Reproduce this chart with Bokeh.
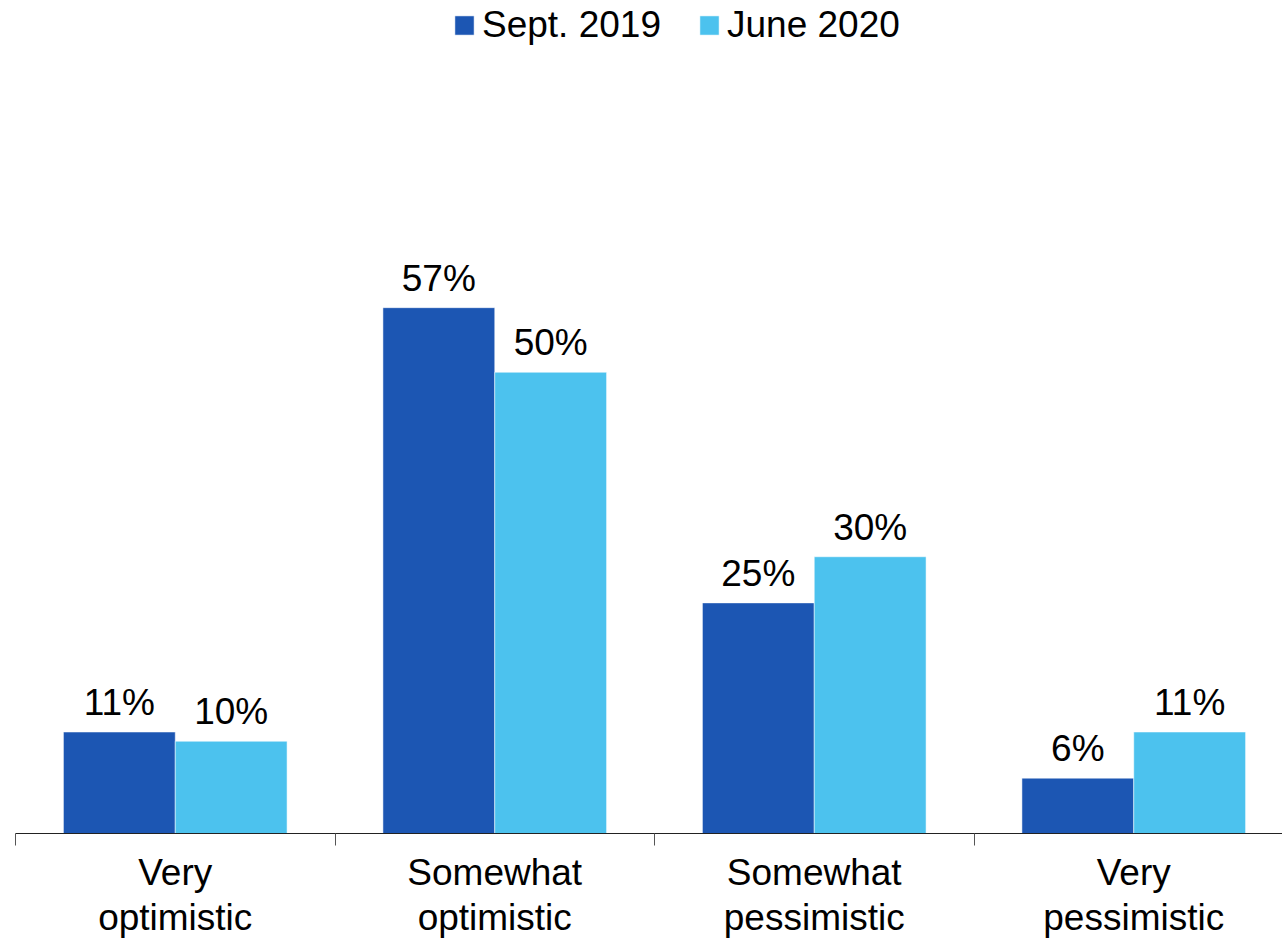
from bokeh.plotting import figure
from bokeh.models import (ColumnDataSource, Range1d, FixedTicker, LinearAxis,
                          Legend, LegendItem, LabelSet)
from bokeh.core.properties import value
from bokeh.embed import file_html
from bokeh.resources import INLINE

categories = ["Very\noptimistic", "Somewhat\noptimistic", "Somewhat\npessimistic", "Very\npessimistic"]
series_names = ["Sept. 2019", "June 2020"]
sept_2019 = [11, 57, 25, 6]
june_2020 = [10, 50, 30, 11]
colors = ["#1C56B3", "#4CC2EE"]

FONT = "Liberation Sans"
FS = "37px"
centers = [i + 0.5 for i in range(len(categories))]
bw = 0.35

src1 = ColumnDataSource(dict(x=[c - bw / 2 for c in centers], top=sept_2019,
                             lab=[f"{v}%" for v in sept_2019]))
src2 = ColumnDataSource(dict(x=[c + bw / 2 for c in centers], top=june_2020,
                             lab=[f"{v}%" for v in june_2020]))

W, H = 1282, 940
p = figure(width=W, height=H, output_backend="svg", toolbar_location=None,
           x_range=Range1d(0, 1267 / 319.5), y_range=Range1d(0, 90.3),
           x_axis_location=None, y_axis_location=None,
           min_border_left=15, min_border_right=0, min_border_top=0)
p.outline_line_color = None
p.xgrid.visible = False
p.ygrid.visible = False
p.background_fill_color = "white"

r1 = p.vbar(x="x", top="top", width=bw, source=src1, fill_color=colors[0],
            line_color="white", line_alpha=0.5, line_width=1)
r2 = p.vbar(x="x", top="top", width=bw, source=src2, fill_color=colors[1],
            line_color="white", line_alpha=0.5, line_width=1)

for s in (src1, src2):
    p.add_layout(LabelSet(x="x", y="top", text="lab", source=s,
                          text_align="center", text_baseline="alphabetic",
                          y_offset=17, text_font=value(FONT), text_font_size=value(FS),
                          text_color="black"))

ax = LinearAxis(ticker=FixedTicker(ticks=centers, minor_ticks=[0, 1, 2, 3]))
ax.major_label_overrides = {c: lab for c, lab in zip(centers, categories)}
ax.major_tick_in = 0
ax.major_tick_out = 0
ax.minor_tick_in = 0
ax.minor_tick_out = 12
ax.minor_tick_line_color = "#555555"
ax.axis_line_color = "#222222"
ax.major_label_text_font = FONT
ax.major_label_text_font_size = FS
ax.major_label_text_color = "black"
ax.major_label_text_line_height = 1.1
ax.major_label_standoff = 6
p.add_layout(ax, "below")

legend = Legend(items=[LegendItem(label=series_names[0], renderers=[r1]),
                       LegendItem(label=series_names[1], renderers=[r2])],
                orientation="horizontal", location=(437, 787),
                glyph_width=24, glyph_height=24, label_standoff=6, spacing=36,
                padding=0, margin=0, border_line_color=None,
                background_fill_alpha=0, label_text_font=FONT,
                label_text_font_size=FS, label_text_color="black")
p.add_layout(legend)

open("out.html", "w").write(file_html(p, INLINE))
